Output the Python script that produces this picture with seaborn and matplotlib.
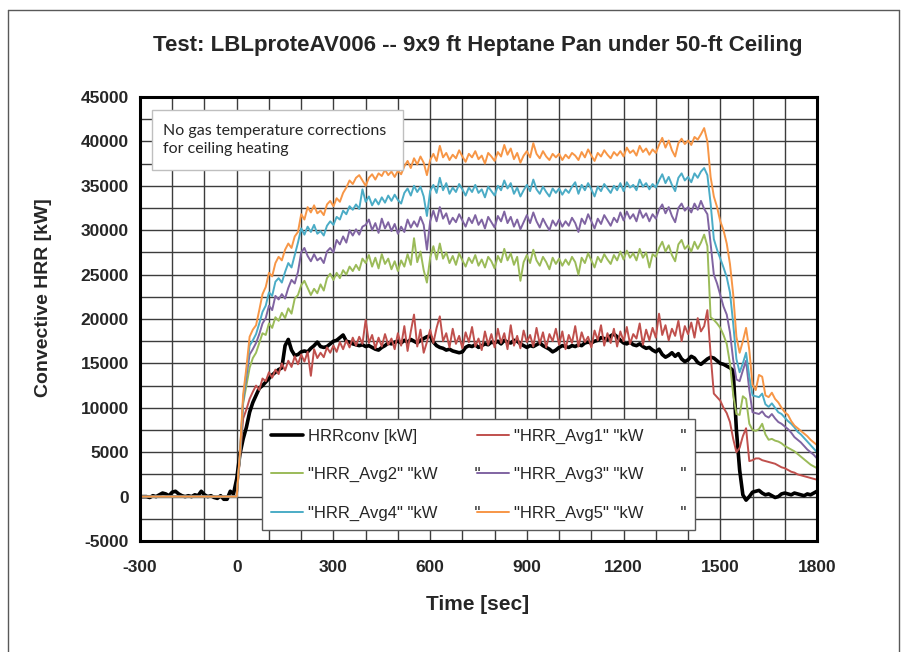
import numpy as np
import pandas as pd
import matplotlib
matplotlib.use("Agg")
import matplotlib.pyplot as plt
from matplotlib.lines import Line2D
from matplotlib.patches import Rectangle
import seaborn as sns

# ---------------- data (kW) ----------------
time_conv = list(range(-300, 1801, 10))
time_avg = [-300] + list(range(0, 1801, 10))

hrr_conv = [
    0, 0, 0, -100, 100, 0, 200, 400, 300, 100, 500, 600, 300, 100, 0,
    100, 0, 200, 100, 600, 200, 0, 100, -100, -200, 100, -300, -300, 600, 300,
    2000, 4800, 6500, 7800, 9500, 10600, 11400, 12200, 12500, 12900,
    13300, 13700, 14000, 14300, 14500, 17000, 17700, 16500, 15900, 16000,
    16300, 16400, 16300, 16700, 17000, 17400, 16900, 16800, 16900, 17200,
    17500, 17600, 17900, 18200, 17500, 17400, 17200, 17100, 17000, 17100,
    16900, 17000, 16800, 16600, 16500, 16800, 17000, 17300, 17200, 17400,
    17500, 17300, 17600, 17400, 17700, 17500, 17300, 17600, 17800, 18000,
    18100, 17400, 17000, 16800, 16700, 16500, 16600, 16400, 16300, 16200,
    16300, 16800, 17000, 16900, 17100, 16800, 17000, 17200, 17100, 17400,
    17300, 17500, 17200, 17600, 17400, 17300, 17600, 17500, 17200, 17000,
    16800, 17000, 16900, 17100, 17300, 17000, 16800, 16600, 16300, 16500,
    16800, 17000, 16900, 16800, 17000, 16900, 17100, 17000, 17300, 17400,
    17300, 17500, 17600, 17900, 17800, 17700, 18100, 18300, 18000, 17600,
    17300, 17200, 17400, 17100, 17000, 17200, 16900, 16700, 16800, 16500,
    16300, 16600, 16000, 15700, 15900, 16200, 15800, 16100, 15500, 15200,
    15400, 15800, 15600, 15100, 14900, 15200, 15500, 15700, 15600, 15300,
    15000, 14900, 14700, 14500, 14200, 7500, 3000, 200, -400, 0,
    500, 600, 700, 400, 200, 300, 100, -100, 0, 300,
    400, 300, 200, 400, 300, 200, 100, 300, 200, 400,
    600,
]

hrr_avg1 = [
    0,
    0, 4300, 8800, 9800, 11000, 11800, 12500, 12000, 13300, 13000,
    14000, 13400, 14300, 13800, 15000, 14200, 15300, 14600, 15800, 14900,
    16000, 15200, 16300, 13600, 16600, 15600, 16200, 15700, 16800, 16200,
    17000, 16300, 17400, 16600, 17600, 16800, 17900, 17000, 18000, 17200,
    19900, 17300, 18200, 16700, 17900, 16900, 18300, 17100, 17800, 16600,
    18400, 17000, 19200, 16400, 18600, 20500, 16900, 18800, 16200, 17400,
    18800, 17300, 19000, 20300, 17500, 18400, 16800, 18900, 17200, 18100,
    16700, 18500, 17400, 19100, 16900, 17800, 16500, 18600, 17100, 18300,
    16800, 18900, 17300, 18400, 16600, 19300, 17000, 18100, 16700, 18700,
    17400, 18200, 16900, 19000, 17200, 18500, 16800, 18300, 17500, 18900,
    17100, 18600, 16600, 18200, 17300, 19200, 16900, 18500, 17400, 18000,
    16800, 18700, 17600, 19300, 17000, 18400, 17300, 18900, 16900, 18600,
    17500, 19100, 17200, 18300, 17800, 19500, 17100, 18800, 17600, 19000,
    17900, 20600, 18200, 19300, 17600, 18900, 18100, 19800, 17500, 19200,
    18300, 19600, 17900, 20100, 18600, 19200, 21000, 16000, 11600, 11200,
    10800, 10000, 9400, 8400, 6500, 5000, 5500, 6800, 7700, 4000,
    4100, 4300, 4300, 4100, 4000, 3900, 3800, 3700, 3500, 3300,
    3200, 3000, 2800, 2700, 2500, 2400, 2300, 2200, 2100, 2000,
    1900,
]

hrr_avg2 = [
    0,
    0, 4500, 10500, 12500, 14500, 15600, 16200, 17300, 18400, 18200,
    19500, 19000, 20200, 19800, 20700, 20100, 21200, 20600, 22300, 22700,
    23800, 24300, 23500, 22700, 23400, 22900, 23900, 23200, 24600, 25100,
    24400, 25200, 24600, 25500, 25000, 25900, 25400, 26100, 25500, 26800,
    26300, 27200, 25900, 26900, 25700, 27300, 26200, 26800, 25600, 26500,
    25400, 26600, 25900, 27300, 26100, 29100, 26400, 27600, 25500, 24100,
    26900, 28200, 26700, 28500, 26800, 27500, 26300, 27100, 26100, 27400,
    26600, 25900, 26900, 26300, 27200, 26000, 26700, 25800, 27000, 26500,
    25700, 27100, 26400, 27900, 26600, 27400, 26100, 27000, 24300, 26400,
    27200, 26300, 27800, 26600, 26000, 27000, 26400, 25600, 26900, 26200,
    26800, 26000, 26700, 26100, 27000, 26400, 25000, 26900, 26300, 27400,
    26600, 25800, 27000, 26400, 27300, 26700, 26200, 27200, 26600, 27600,
    26700, 27700, 26900, 27400, 26600, 27900, 26900, 27500, 25800, 27300,
    27000, 28000, 28700, 27600, 28300, 27200, 26500, 28400, 28900, 27900,
    28300, 27600, 28700, 27900, 28600, 29500, 28200, 20200, 19900, 19500,
    19000, 18200, 17200, 15000, 11500, 9300, 9200, 11300, 11000, 8200,
    7500, 7400, 7600, 8200, 7000, 6400, 6500, 6300, 6200, 6000,
    5700, 5500, 5300, 5100, 4800, 4500, 4200, 3900, 3600, 3400,
    3200,
]

hrr_avg3 = [
    0,
    0, 4700, 10800, 13500, 16000, 16600, 17300, 18300, 19500, 20100,
    21500, 21000, 22600, 22200, 22800, 22300, 23500, 24400, 24000, 25300,
    27500, 28000, 27100, 26500, 27300, 26600, 26900, 26300, 27600, 28000,
    27500, 28900, 28400, 29300, 28600, 30000, 29400, 30100, 29500, 30400,
    30600, 31200, 30000, 30800, 29700, 31300, 30200, 30900, 29900, 30700,
    29600, 30400, 29800, 31200, 30300, 31000, 30400, 31500, 30600, 27800,
    31000, 32200, 31000, 32600, 31300, 31900, 30700, 31400, 30900, 31800,
    31100, 30400, 31400, 30800, 31700, 30600, 31200, 30200, 31500, 30900,
    30300, 31600, 31000, 32100, 30800, 31500, 30400, 31200, 30100, 30900,
    31700, 30800, 32000, 31000, 30300, 31300, 30600, 30000, 31100, 30500,
    31200, 30400, 31000, 30500, 31400, 30800, 29800, 31300, 30700, 31800,
    31000, 30200, 31300, 30700, 31700, 31100, 30500, 31400, 30900, 32000,
    31100, 32100, 31300, 31800, 31000, 32300, 31400, 31900, 31000, 31800,
    31300, 32300, 32900, 31900, 32600, 31600, 30900, 32500, 33000, 32200,
    32600, 32000, 33000, 32300, 33300, 32400, 31800, 28500, 25000, 24000,
    22700, 21400, 20500, 18500, 15400, 13200, 13000, 14200, 15300, 12000,
    9500, 9400, 9300, 9600, 9100, 8900, 9300, 8800, 8400, 8200,
    7900, 7600, 7200, 6700, 6400, 6100, 5700, 5300, 5000, 4700,
    4300,
]

hrr_avg4 = [
    0,
    0, 4800, 11000, 14000, 17000, 17600, 18300, 19500, 20800, 21500,
    23000, 22600, 24200, 24600, 24100, 25300, 26300, 25800, 27200, 28600,
    30200, 29500, 30400, 29800, 30600, 29600, 29900, 29400, 30500, 31000,
    30600, 31500, 31200, 32200, 31800, 32700, 32300, 32900, 32400, 34600,
    33200, 33800, 32800, 33500, 32900, 33700, 33100, 33900, 33300, 34000,
    33400, 33000, 34200, 34700, 33900, 35000, 34300, 34900, 33800, 31600,
    34400, 35100, 34200, 35900, 34500, 35300, 34100, 34800, 34300, 35200,
    34600, 33900, 34800, 34300, 35100, 34200, 34600, 33700, 34900, 34400,
    33900, 35000, 34500, 35600, 34700, 35300, 34100, 34800, 33800, 34500,
    35100, 34400, 35700, 34600, 34100, 34900, 34300, 33800, 34700, 34200,
    34700, 34000, 34600, 34200, 34900, 35400, 34100, 35100, 34500, 35300,
    34600, 33800, 34900, 34400, 35200, 34700, 34200, 35000, 34500, 35300,
    34400, 35400, 34800, 35100, 34500, 35700, 34900, 35300, 34600, 35200,
    34800, 35600, 36300, 35300, 36000, 35100, 34400, 35900, 36400, 35600,
    36000, 35400, 36400, 35900, 36600, 37000, 36200, 33000, 29000, 27800,
    26800, 25800, 24700, 23000, 19500, 15500, 14000, 15000, 16200, 13500,
    11400, 11300, 11200, 11600, 10400, 10100, 10500, 10000, 9500, 9300,
    8900, 8500, 8200, 7800, 7300, 7000, 6600, 6200, 5800, 5400,
    5000,
]

hrr_avg5 = [
    0,
    0, 5000, 11500, 14500, 18000, 18800, 19300, 21000, 22800, 23600,
    25200, 24800, 26300, 27000, 26600, 27800, 28500, 28000, 29300, 29800,
    31800, 31200, 32600, 32000, 32800, 31900, 32200, 31700, 32900, 33300,
    32700, 33600, 33200, 34200, 34800, 35600, 35200, 35900, 36200, 35600,
    35000, 35900, 36300, 35700, 36400, 36100, 36800, 36200, 36600, 36000,
    36700, 36300, 37200, 37800, 37000, 38100, 37400, 38300, 37600, 36200,
    37900, 38600, 37800, 39500, 38200, 38700, 37900, 38500, 38100, 39000,
    38300, 37700, 38600, 38200, 38900, 38000, 38400, 37500, 38700, 38300,
    37800, 38800, 38300, 39600, 38500, 39200, 38000, 38700, 37600, 38400,
    38900, 38200, 39800, 38600, 38100, 38900, 38300, 37900, 38600, 38200,
    38600, 37900, 38500, 38100, 38700, 38400, 37900, 38800, 38200, 39100,
    38400, 37800, 38700, 38300, 39000, 38500, 38100, 38800, 38400, 38900,
    38300, 39300, 38700, 39000, 38400, 39500, 38800, 39200, 38500, 39100,
    38700, 39600, 40400, 39300, 40100, 39000, 38300, 39800, 40300, 39700,
    40100, 39600, 40500, 40200, 40800, 41500, 40000, 36000, 33800, 32600,
    31000, 30000, 28500, 26200, 22800, 18000, 16200, 17500, 19000, 16500,
    12600, 12000, 13700, 13500, 11400, 11200, 11700, 11000, 10600, 10000,
    9500, 9200, 8500, 8000, 7700, 7400, 7100, 6800, 6400, 6100,
    5800,
]

series_labels = [
    'HRRconv [kW]',
    '"HRR_Avg1" "kW        "',
    '"HRR_Avg2" "kW        "',
    '"HRR_Avg3" "kW        "',
    '"HRR_Avg4" "kW        "',
    '"HRR_Avg5" "kW        "',
]
series_colors = ['#000000', '#C0504D', '#9BBB59', '#8064A2', '#4BACC6', '#F79646']
series_widths = [2.6, 1.4, 1.4, 1.4, 1.4, 1.4]

x_ticks = list(range(-300, 1801, 300))
y_ticks = list(range(-5000, 45001, 5000))

title = 'Test: LBLproteAV006 -- 9x9 ft Heptane Pan under 50-ft Ceiling'
note = 'No gas temperature corrections\nfor ceiling heating'

# ---------------- plot ----------------
sns.set_theme(style='white')
plt.rcParams['font.family'] = ['Liberation Sans', 'DejaVu Sans']

W, H = 908, 652
fig = plt.figure(figsize=(W / 100, H / 100), dpi=100)
fig.patch.set_facecolor('white')
ax = fig.add_axes([140 / W, 1 - 541 / H, 677 / W, 444 / H])

series_data = [
    (time_conv, hrr_conv),
    (time_avg, hrr_avg1),
    (time_avg, hrr_avg2),
    (time_avg, hrr_avg3),
    (time_avg, hrr_avg4),
    (time_avg, hrr_avg5),
]
for (tt, vv), lab, col, lw in zip(series_data, series_labels, series_colors, series_widths):
    df = pd.DataFrame({'Time': tt, 'HRR': vv})
    sns.lineplot(data=df, x='Time', y='HRR', ax=ax, color=col, linewidth=lw,
                 label=lab, estimator=None, sort=False)

ax.set_xlim(-300, 1800)
ax.set_ylim(-5000, 45000)
ax.set_xticks(x_ticks)
ax.set_yticks(y_ticks)
ax.set_xticks(list(range(-300, 1801, 100)), minor=True)
ax.set_yticks(list(range(-5000, 45001, 2500)), minor=True)
ax.set_xticklabels([str(v) for v in x_ticks])
ax.set_yticklabels([str(v) for v in y_ticks])
ax.grid(which='both', color='#3c3c3c', linewidth=1.0)
ax.set_axisbelow(True)
ax.tick_params(which='major', direction='out', length=5, width=1.5, color='black',
               labelsize=12.5)
ax.tick_params(axis='x', which='major', pad=9)
ax.tick_params(axis='y', which='major', pad=3)
ax.tick_params(which='minor', length=0)
for lab in ax.get_xticklabels() + ax.get_yticklabels():
    lab.set_fontweight('bold')
for sp in ax.spines.values():
    sp.set_color('black')
    sp.set_linewidth(2.2)

ax.set_xlabel('Time [sec]', fontsize=15, fontweight='bold')
ax.set_ylabel('Convective HRR [kW]', fontsize=14, fontweight='bold')
ax.xaxis.set_label_coords((478 - 140) / 677, (541 - 595) / 444)
ax.yaxis.set_label_coords((52 - 140) / 677, (541 - 298) / 444)

handles, labels = ax.get_legend_handles_labels()
order = [0, 2, 4, 1, 3, 5]
leg = ax.legend([handles[i] for i in order], [labels[i] for i in order], ncol=2,
                loc='lower left', bbox_to_anchor=(0.180, 0.025, 0.640, 0.243),
                mode='expand', borderaxespad=0, fontsize=12, frameon=True,
                fancybox=False, framealpha=1, edgecolor='#595959',
                handlelength=1.9, handletextpad=0.3, labelspacing=1.4,
                borderpad=0.55)
leg.get_frame().set_linewidth(1.0)
leg.set_zorder(10)

fig.text(478 / W, 1 - 45 / H, title, ha='center', va='center', fontsize=16,
         fontweight='bold')

fig.patches.append(Rectangle((152 / W, 1 - 170 / H), 251 / W, 60 / H,
                             transform=fig.transFigure, facecolor='white',
                             edgecolor='#bfbfbf', linewidth=1.0, zorder=5))
fig.text(163 / W, 1 - 140 / H, note, ha='left', va='center', fontsize=11.5,
         family=['Lato', 'DejaVu Sans'], linespacing=1.4, zorder=6)

# chart-area border
bc = '#595959'
fig.add_artist(Line2D([8 / W, 899 / W], [1 - 10 / H, 1 - 10 / H], transform=fig.transFigure, color=bc, lw=1))
fig.add_artist(Line2D([8 / W, 8 / W], [0, 1 - 10 / H], transform=fig.transFigure, color=bc, lw=1))
fig.add_artist(Line2D([899 / W, 899 / W], [0, 1 - 10 / H], transform=fig.transFigure, color=bc, lw=1))

fig.savefig('out.png', dpi=100, facecolor='white')
